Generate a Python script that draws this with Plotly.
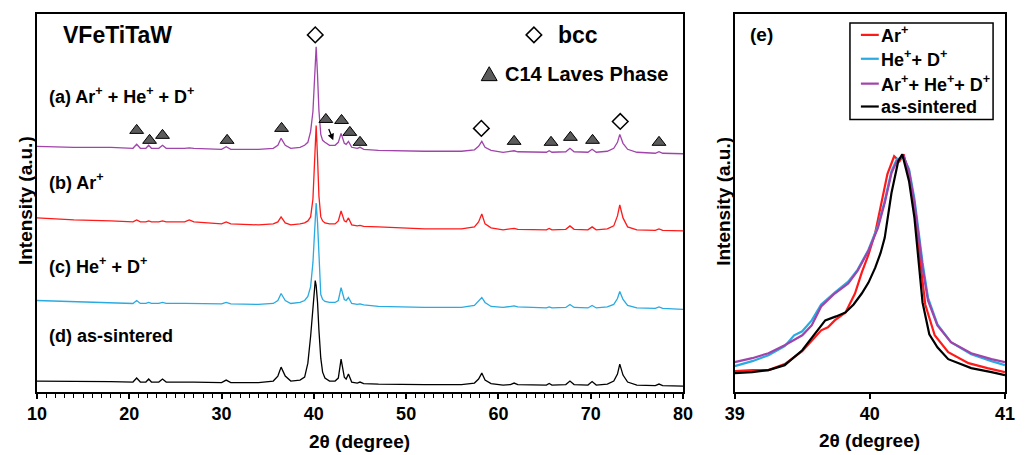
import plotly.graph_objects as go

# ---------------- Left panel: XRD patterns (2θ in degree, intensity a.u., offset patterns) -------------
two_theta = [10, 14, 18, 20.4, 20.8, 21.2, 21.8, 22.1, 22.4, 23.2, 23.6, 24.0, 26.0, 26.5, 27.0,
             30.0, 30.5, 31.0, 34.0, 35.6, 36.1, 36.45, 36.9, 37.5, 38.5,
             39.0, 39.35, 39.65, 39.9, 40.05, 40.15, 40.25, 40.4, 40.55, 40.75, 40.95, 41.2, 41.7,
             42.3, 42.65, 42.95, 43.3, 43.5, 43.75, 44.1, 44.7, 45.0, 45.4, 47.0, 52.0, 56.0,
             57.4, 57.85, 58.2, 58.55, 59.2, 60.5, 61.3, 61.7, 62.1, 64.0, 65.2, 65.5, 65.8,
             67.3, 67.75, 68.2, 69.7, 70.15, 70.6, 71.8, 72.5, 72.9, 73.15, 73.5, 74.0, 75.0,
             77.0, 77.4, 77.8, 80.0]

int_as_sintered = [11, 11, 10.5, 10, 14, 10, 10, 13, 10, 10, 13, 10, 10, 10.5, 10,
                   9.5, 12, 9.5, 9.5, 11, 16, 25, 16, 11, 12,
                   15, 29, 56, 82, 101, 112, 107, 90, 62, 34, 20, 14, 11,
                   11, 14, 33, 15, 13, 18, 10, 9, 10, 8.5, 8, 7.5, 7.5,
                   9, 13, 19, 12, 8.5, 7, 7.5, 9, 7.5, 7, 7, 8.5, 7,
                   7.5, 11, 7.5, 7, 10.5, 7, 8, 11, 18, 28, 17, 10, 7,
                   6.5, 8, 6.5, 6]

int_he_d = [92, 91, 90, 89, 92, 89, 89, 90, 89, 89, 90, 89, 89, 89, 89,
            88.5, 90, 88.5, 88, 89, 92, 99, 92, 89, 90,
            92, 96, 106, 130, 158, 180, 190, 170, 138, 98, 93, 91, 90,
            90, 92, 105, 93, 92, 95, 89, 88, 88.5, 87.5, 86, 85, 85,
            87, 91, 95, 90, 86, 85, 85.5, 86.5, 85.5, 84.5, 84.5, 85.5, 84.5,
            85, 88, 85, 84.5, 87, 84.5, 85.5, 88, 94, 101, 93, 87, 84.5,
            84, 85.5, 84, 83]

int_ar = [175, 173, 172, 171, 173, 171, 171, 172, 171, 171, 172, 171, 171, 173, 171,
          169, 171, 169, 168, 169, 171, 176, 170, 168, 169,
          170, 172, 176, 194, 224, 255, 268, 235, 197, 176, 172, 170, 169,
          169, 172, 182, 172, 171, 175, 168, 167, 167.5, 166.5, 166, 164, 164,
          166, 171, 179, 169, 165, 163, 163.5, 164.5, 163.5, 163, 163, 164.5, 163,
          163.5, 167, 163.5, 163, 166, 163, 164, 167, 177, 188, 175, 166, 163,
          162.5, 164, 162.5, 162]

int_ar_he_d = [247, 246, 246, 245, 249, 245, 245, 248, 245, 245, 248, 245, 245, 245.5, 245,
               244, 246.5, 244, 244, 245, 248, 255, 248, 245, 246,
               248, 251, 262, 282, 310, 335, 347, 318, 283, 259, 253, 251, 248,
               248, 251, 260, 250, 249, 252, 246, 245, 246, 244, 243, 242, 242,
               243.5, 247, 252, 246, 243, 241, 241.5, 242.5, 241.5, 241, 241, 242.5, 241,
               241.5, 245, 241.5, 241, 244, 241, 242, 245, 251, 259, 250, 244, 241,
               240, 241.5, 240, 239.5]

# phase markers
bcc_theta = [40.15, 58.15, 73.2]
bcc_height = [359, 265, 272]
c14_theta = [20.8, 22.2, 23.6, 30.6, 36.5, 41.3, 43.0, 43.9, 45.0, 61.7, 65.7, 67.8, 70.2, 77.4]
c14_height = [263, 253, 258, 253, 265, 274, 273, 261, 251, 252, 251, 256, 253, 251]

# ---------------- Right panel (e): zoom of the (110) peak -------------
zoom_theta_ar = [39.0, 39.13, 39.25, 39.37, 39.5, 39.57, 39.64, 39.69, 39.74, 39.82, 39.89, 39.94,
                 39.99, 40.04, 40.09, 40.13, 40.18, 40.22, 40.25, 40.3, 40.34, 40.37, 40.41, 40.48,
                 40.58, 40.73, 40.87, 41.0]
zoom_int_ar = [21, 22, 22, 28, 41, 51, 62, 65, 72, 80, 99, 120,
               138, 160, 192, 219, 237, 232, 239, 212, 178, 135, 88, 57,
               40, 29, 24, 20]

zoom_theta_he_d = [39.0, 39.13, 39.25, 39.37, 39.44, 39.5, 39.57, 39.64, 39.74, 39.84, 39.91, 39.99,
                   40.06, 40.11, 40.16, 40.2, 40.25, 40.29, 40.33, 40.36, 40.39, 40.43, 40.5, 40.6,
                   40.75, 40.9, 41.0]
zoom_int_he_d = [26, 31, 37, 46, 57, 61, 72, 88, 100, 111, 123, 143,
                 167, 192, 222, 234, 236, 224, 194, 162, 130, 95, 68, 50,
                 38, 31, 27]

zoom_theta_ar_he_d = [39.0, 39.13, 39.25, 39.37, 39.5, 39.57, 39.64, 39.74, 39.84, 39.91, 39.99, 40.06,
                      40.11, 40.16, 40.2, 40.25, 40.29, 40.33, 40.36, 40.39, 40.43, 40.5, 40.6, 40.75,
                      40.9, 41.0]
zoom_int_ar_he_d = [30, 34, 39, 47, 57, 67, 86, 99, 109, 122, 142, 165,
                    190, 220, 232, 237, 222, 190, 158, 125, 92, 67, 50, 39,
                    33, 30]

zoom_theta_as = [39.0, 39.13, 39.25, 39.37, 39.5, 39.6, 39.67, 39.75, 39.82, 39.88, 39.94, 39.99,
                 40.04, 40.08, 40.11, 40.16, 40.21, 40.24, 40.29, 40.33, 40.36, 40.39, 40.44, 40.5,
                 40.58, 40.75, 40.9, 41.0]
zoom_int_as = [19, 20, 22, 27, 42, 60, 72, 76, 80, 88, 99, 110,
               125, 140, 155, 200, 232, 239, 212, 175, 130, 90, 58, 45,
               33, 24, 20, 17]

# ---------------- Styling -------------
FONT = "Arial, 'Liberation Sans', Helvetica, sans-serif"
RED = "#FF1A1A"
BLUE = "#29AAE1"
PURPLE = "#A043AA"
BLACK = "#000000"

W, H = 1027, 455
ML, MR, MT, MB = 37, 16, 12, 63
PW = W - ML - MR
PH = H - MT - MB


def px2x(px):
    return (px - ML) / PW


def py2y(py):
    return (H - MB - py) / PH


fig = go.Figure()

# left panel lines
for y, c in [(int_ar_he_d, PURPLE), (int_ar, RED), (int_he_d, BLUE), (int_as_sintered, BLACK)]:
    fig.add_trace(go.Scatter(x=two_theta, y=y, mode="lines", line=dict(color=c, width=1.3),
                             xaxis="x", yaxis="y", showlegend=False, hoverinfo="skip"))

fig.add_trace(go.Scatter(x=c14_theta, y=c14_height, mode="markers", xaxis="x", yaxis="y",
                         marker=dict(symbol="triangle-up", size=12, color="#5b5b5b",
                                     line=dict(color="black", width=1)),
                         showlegend=False, hoverinfo="skip"))
fig.add_trace(go.Scatter(x=bcc_theta, y=bcc_height, mode="markers", xaxis="x", yaxis="y",
                         marker=dict(symbol="diamond", size=12, color="white",
                                     line=dict(color="black", width=1.5)),
                         showlegend=False, hoverinfo="skip"))

# right panel lines
for xs, ys, c in [(zoom_theta_ar, zoom_int_ar, RED), (zoom_theta_he_d, zoom_int_he_d, BLUE),
                  (zoom_theta_ar_he_d, zoom_int_ar_he_d, PURPLE), (zoom_theta_as, zoom_int_as, BLACK)]:
    fig.add_trace(go.Scatter(x=xs, y=ys, mode="lines", line=dict(color=c, width=2.2),
                             xaxis="x2", yaxis="y2", showlegend=False, hoverinfo="skip"))

tickfont = dict(family=FONT, size=18, color="black", weight="bold")
common_x = dict(showline=True, linecolor="black", linewidth=1.5, mirror=True, showgrid=False,
                zeroline=False, ticks="outside", ticklen=5, tickwidth=1.5, tickcolor="black",
                tickfont=tickfont)
common_y = dict(showline=True, linecolor="black", linewidth=1.5, mirror=True, showgrid=False,
                zeroline=False, showticklabels=False, ticks="", range=[0, 380], fixedrange=True)

fig.update_layout(
    width=W, height=H,
    margin=dict(l=ML, r=MR, t=MT, b=MB),
    paper_bgcolor="white", plot_bgcolor="white",
    xaxis=dict(domain=[0, px2x(687)], range=[10, 80], tickmode="linear", tick0=10, dtick=10,
               minor=dict(dtick=1, tick0=10, ticks="outside", ticklen=4, tickwidth=1.2, tickcolor="black"),
               anchor="y", **common_x),
    yaxis=dict(domain=[0, 1], anchor="x", **common_y),
    xaxis2=dict(domain=[px2x(739), 1], range=[39, 41], tickmode="array", tickvals=[39, 40, 41],
                anchor="y2", **common_x),
    yaxis2=dict(domain=[0, 1], anchor="x2", **common_y),
)

annotations = []


def ann(text, px, py, size, xanchor="left", angle=0):
    annotations.append(dict(text=text, x=px2x(px), y=py2y(py), xref="paper", yref="paper",
                            xanchor=xanchor, yanchor="middle", showarrow=False, textangle=angle,
                            font=dict(family=FONT, size=size, color="black", weight="bold")))


ann("VFeTiTaW", 61, 33, 23)
ann("bcc", 559, 33, 23)
ann("C14 Laves Phase", 506, 72, 20)
ann("(a) Ar<sup>+</sup> + He<sup>+</sup> + D<sup>+</sup>", 47, 94, 18)
ann("(b) Ar<sup>+</sup>", 47, 180, 18)
ann("(c) He<sup>+</sup> + D<sup>+</sup>", 47, 265, 18)
ann("(d) as-sintered", 47, 336, 18)
ann("(e)", 752, 33, 19)
ann("2θ (degree)", 362, 442, 19, xanchor="center")
ann("2θ (degree)", 875, 441, 19, xanchor="center")
ann("Intensity (a.u.)", 25, 200, 19, xanchor="center", angle=-90)
ann("Intensity (a.u.)", 727, 200, 19, xanchor="center", angle=-90)

# manual legend for panel (e)
legend_rows = [("Ar<sup>+</sup>", RED, 33), ("He<sup>+</sup>+ D<sup>+</sup>", BLUE, 57),
               ("Ar<sup>+</sup>+ He<sup>+</sup>+ D<sup>+</sup>", PURPLE, 82), ("as-sintered", BLACK, 105)]
shapes = [dict(type="rect", xref="paper", yref="paper", x0=px2x(855), x1=px2x(999),
               y0=py2y(118), y1=py2y(21), line=dict(color="black", width=1.5), fillcolor="white",
               layer="above")]
for label, col, py in legend_rows:
    shapes.append(dict(type="line", xref="paper", yref="paper", x0=px2x(866), x1=px2x(884),
                       y0=py2y(py), y1=py2y(py), line=dict(color=col, width=2.2)))
    ann(label, 884, py, 18)

# phase key symbols (diamond and triangle)
dcx, dcy, dr = 537, 33, 7.8
shapes.append(dict(type="path", xref="paper", yref="paper",
                   path=f"M {px2x(dcx - dr)},{py2y(dcy)} L {px2x(dcx)},{py2y(dcy - dr)} "
                        f"L {px2x(dcx + dr)},{py2y(dcy)} L {px2x(dcx)},{py2y(dcy + dr)} Z",
                   line=dict(color="black", width=1.5), fillcolor="white"))
tcx, tcy, tw, th = 492, 72, 16, 14
shapes.append(dict(type="path", xref="paper", yref="paper",
                   path=f"M {px2x(tcx - tw / 2)},{py2y(tcy + th / 2)} L {px2x(tcx + tw / 2)},{py2y(tcy + th / 2)} "
                        f"L {px2x(tcx)},{py2y(tcy - th / 2)} Z",
                   line=dict(color="black", width=1), fillcolor="#5b5b5b"))

# arrow pointing to the small C14 peak
annotations.append(dict(x=42.1, y=253, ax=41.55, ay=266, xref="x", yref="y", axref="x", ayref="y",
                        text="", showarrow=True, arrowhead=2, arrowsize=1, arrowwidth=1.3,
                        arrowcolor="black"))

fig.update_layout(annotations=annotations, shapes=shapes)
fig.write_html("out.html", config={"displayModeBar": False},
               post_script="document.body.style.margin='0';document.body.style.overflow='hidden';")
